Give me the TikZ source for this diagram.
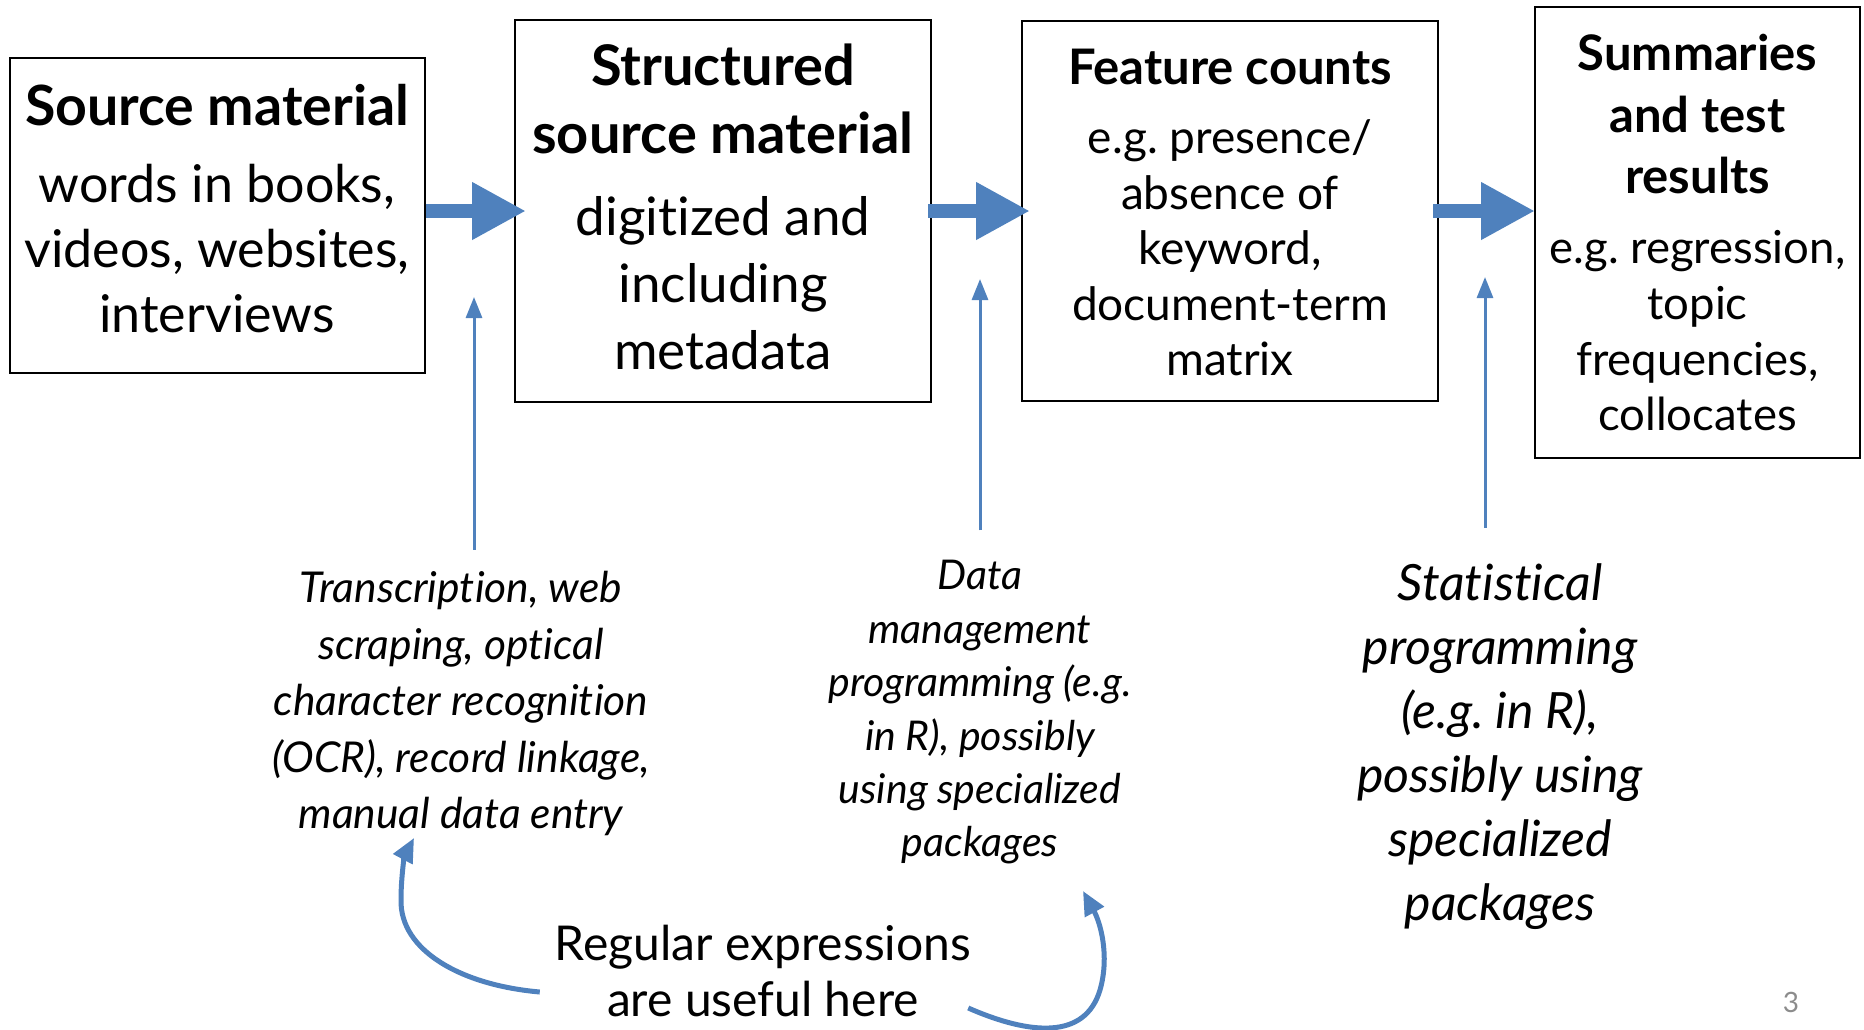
\documentclass[tikz,border=0pt]{standalone}
\usepackage{fontspec}
\setmainfont{Lato}[Ligatures={NoCommon}]
\usetikzlibrary{arrows.meta,calc}
\definecolor{accent}{HTML}{4F81BD}
\begin{document}
\begin{tikzpicture}[x=1pt,y=-1pt,
  frame/.style={draw=black, line width=2pt, inner sep=0pt},
  ttl/.style 2 args={font=\bfseries\fontsize{#1}{#2}\selectfont, align=center, inner sep=0pt},
  txt/.style 2 args={font=\fontsize{#1}{#2}\selectfont, align=center, inner sep=0pt},
  itx/.style 2 args={font=\itshape\fontsize{#1}{#2}\selectfont, align=center, inner sep=0pt},
  blockarrow/.style={draw=accent, line width=14pt, -{Triangle[length=54pt,width=54pt]}},
  thinarrow/.style={draw=accent, line width=3pt, -{Triangle[length=21pt,width=16pt]}},
  curvearrow/.style={draw=accent, line width=5pt, -{Triangle[length=24pt,width=21pt]}}
]
\useasboundingbox (0,0) rectangle (1864,1029);

% boxes
\node[frame, minimum width=415pt, minimum height=315pt] (b1) at (217,215.5) {};
\node[frame, minimum width=416pt, minimum height=382pt] (b2) at (723,211) {};
\node[frame, minimum width=416pt, minimum height=380pt] (b3) at (1230,211) {};
\node[frame, minimum width=325pt, minimum height=451pt] (b4) at (1697.5,232.5) {};

% box texts
\node[ttl={55.5}{64}] (b1t) at (217,105) {Source material};
\node[txt={52}{65}] (b1b) at (217,249) {words in books,\\videos, websites,\\interviews};
\node[ttl={56}{68}] (b2t) at (723,99) {Structured\\source material};
\node[txt={53}{67}] (b2b) at (723,283.5) {digitized and\\including\\metadata};
\node[ttl={49}{60}] (b3t) at (1230,67) {Feature counts};
\node[txt={46}{55.5}] (b3b) at (1230,248) {e.g.\ presence/\\absence of\\keyword,\\document-term\\matrix};
\node[ttl={49}{61.5}] (b4t) at (1697.5,114.5) {Summaries\\and test\\results};
\node[txt={45.5}{55.7}] (b4b) at (1697.5,330.75) {e.g.\ regression,\\topic\\frequencies,\\collocates};

% block arrows
\draw[blockarrow] (b1.east |- b2.west) -- ([xshift=12pt]b2.west);
\draw[blockarrow] ([xshift=-4pt]b2.east) -- ([xshift=9pt]b3.west);
\draw[blockarrow] ([xshift=-6pt]b3.east) -- ($(b3.east -| b4.west)+(1,0)$);

% lower texts
\node[itx={42.5}{56.5}] (lt) at (461,703.5) {Transcription, web\\scraping, optical\\character recognition\\(OCR), record linkage,\\manual data entry};
\node[itx={41}{53.4}] (mt) at (980,712.5) {Data\\management\\programming (e.g.\\in R), possibly\\using specialized\\packages};
\node[itx={50}{64}] (rt) at (1500,746.5) {Statistical\\programming\\(e.g.\ in R),\\possibly using\\specialized\\packages};
\node[txt={48}{56}] (rx) at (763,971) {Regular expressions\\are useful here};

\node[txt={28}{30}, text=black!45] (pg) at (1791,1002) {3};

% thin arrows
\coordinate (t1) at (474,297);
\coordinate (t2) at (980,279);
\coordinate (t3) at (1485,277);
\draw[thinarrow] ([yshift=21.5pt]t1 |- lt.north) -- (t1);
\draw[thinarrow] ([yshift=30pt]t2 |- mt.north) -- (t2);
\draw[thinarrow] ([yshift=35.5pt]t3 |- rt.north) -- (t3);

% curved arrows
\draw[curvearrow] ($(rx.west)+(-15,21)$) .. controls (460,985) and (400,950) .. (401,900) .. controls (401,875) and (405,855) .. (414,838);
\draw[curvearrow] ($(rx.east)+(-3,37)$) .. controls (1030,1035) and (1085,1040) .. (1100,990) .. controls (1110,955) and (1100,922) .. (1083,891);
\end{tikzpicture}
\end{document}
